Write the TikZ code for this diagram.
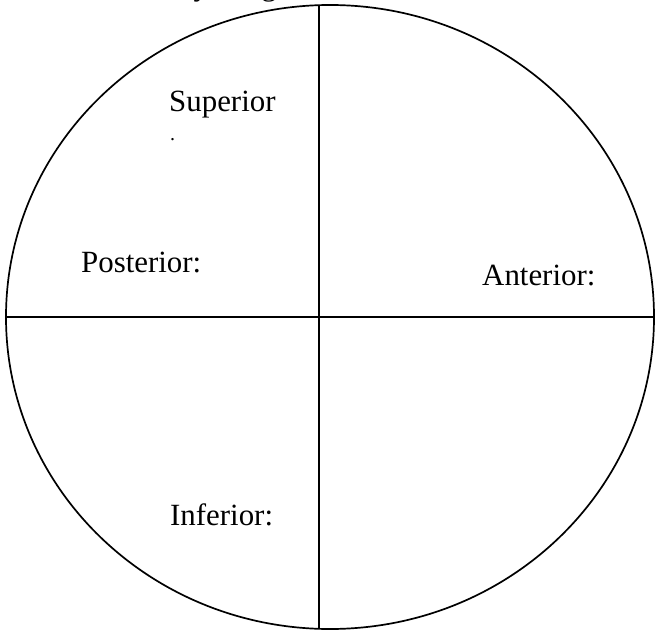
\documentclass[tikz,border=0pt]{standalone}
\usepackage{fontspec}
\setmainfont{Liberation Serif}
\begin{document}
\begin{tikzpicture}[x=1bp,y=-1bp,
  outline/.style={line width=1.7bp,black},
  lbl/.style={anchor=base west,inner sep=0pt,font=\fontsize{31}{37}\selectfont}]
\useasboundingbox (0,0) rectangle (655,630);
\begin{scope}
  \clip (0,0) rectangle (655,630);
  \node[lbl] (title) at (142,-4.5) {Body Diagram};
\end{scope}
\draw[outline] (330,317) ellipse [x radius=324, y radius=312];
\coordinate (top) at (319,5.2);
\coordinate (bottom) at (319,628.8);
\coordinate (left) at (6,317);
\coordinate (right) at (654,317);
\draw[outline] (top) -- (bottom);
\draw[outline] (left) -- (right);
\node[lbl] (sup) at (169,112) {Superior};
\node[lbl] (supdot) at (170,141) {\fontsize{20}{20}\selectfont .};
\node[lbl] (post) at (81,272) {Posterior:};
\node[lbl] (ant) at (482,285) {Anterior:};
\node[lbl] (inf) at (170,525) {Inferior:};
\end{tikzpicture}
\end{document}
